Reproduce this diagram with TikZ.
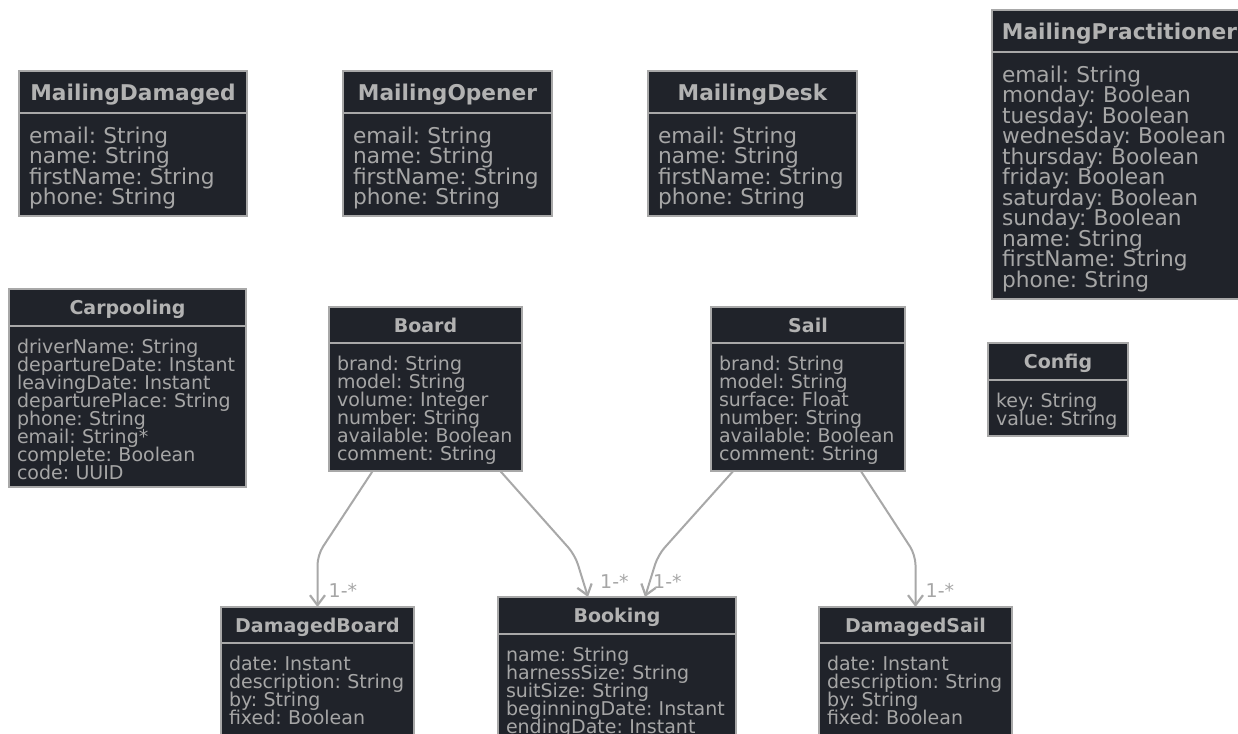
\documentclass[tikz,border=0pt]{standalone}
\usepackage{fontspec}
\setmainfont{DejaVu Sans}
\usetikzlibrary{arrows.meta}
\definecolor{boxbg}{RGB}{32,35,42}
\definecolor{linegray}{RGB}{168,168,168}
\definecolor{txtgray}{RGB}{166,166,166}
\definecolor{titlegray}{RGB}{178,178,178}
\frenchspacing

\begin{document}
\begin{tikzpicture}[x=1pt,y=-1pt,
        head/.style={draw=linegray,fill=boxbg,line width=2pt,text=titlegray,anchor=north west,
            inner sep=0pt,outer sep=0pt,text depth=0pt,font=\fontsize{19}{18}\selectfont\bfseries},
        bighead/.style={head,font=\fontsize{21.7}{20.5}\selectfont\bfseries},
        body/.style={draw=linegray,fill=boxbg,line width=2pt,text=txtgray,anchor=north west,
            align=left,inner xsep=8pt,inner ysep=7pt,outer sep=0pt,font=\fontsize{19}{18}\selectfont,
            execute at begin node={\lineskiplimit=-30pt\hyphenpenalty=10000\frenchspacing\rule{0pt}{1.07em}}},
        bigbody/.style={body,inner xsep=10pt,font=\fontsize{21.7}{20.5}\selectfont},
        assoc/.style={draw=linegray,line width=2pt,rounded corners=10pt,line join=round,
            -{Straight Barb[length=10pt,width=15pt,line width=2.2pt]}},
        mult/.style={text=txtgray,inner sep=0pt,anchor=west,font=\fontsize{19}{18}\selectfont}]
    \useasboundingbox (0,0) rectangle (1238,733);
    \clip (0,0) rectangle (1238,733);
    \fill[white] (0,0) rectangle (1238,733);

    \node[bighead,minimum width=228,minimum height=42] (mdamagedh) at (19,71) {MailingDamaged};
    \node[bigbody,text width=208] (mdamaged) at (mdamagedh.south west)
        {email: String\\name: String\\firstName: String\\phone: String};
    \node[bighead,minimum width=209,minimum height=42] (mopenerh) at (343,71) {MailingOpener};
    \node[bigbody,text width=189] (mopener) at (mopenerh.south west)
        {email: String\\name: String\\firstName: String\\phone: String};
    \node[bighead,minimum width=209,minimum height=42] (mdeskh) at (648,71) {MailingDesk};
    \node[bigbody,text width=189] (mdesk) at (mdeskh.south west)
        {email: String\\name: String\\firstName: String\\phone: String};
    \node[bighead,minimum width=255,minimum height=42] (mpractih) at (992,10) {MailingPractitioner};
    \node[bigbody,text width=235] (mpracti) at (mpractih.south west)
        {email: String\\monday: Boolean\\tuesday: Boolean\\wednesday: Boolean\\thursday: Boolean\\
         friday: Boolean\\saturday: Boolean\\sunday: Boolean\\name: String\\firstName: String\\phone: String};

    \node[head,minimum width=237,minimum height=37] (carpoolh) at (9,289) {Carpooling};
    \node[body,text width=221] (carpool) at (carpoolh.south west)
        {driverName: String\\departureDate: Instant\\leavingDate: Instant\\departurePlace: String\\
         phone: String\\email: String*\\complete: Boolean\\code: UUID};
    \node[head,minimum width=193,minimum height=36] (boardh) at (329,307) {Board};
    \node[body,text width=177] (board) at (boardh.south west)
        {brand: String\\model: String\\volume: Integer\\number: String\\available: Boolean\\comment: String};
    \node[head,minimum width=194,minimum height=36] (sailh) at (711,307) {Sail};
    \node[body,text width=178] (sail) at (sailh.south west)
        {brand: String\\model: String\\surface: Float\\number: String\\available: Boolean\\comment: String};
    \node[head,minimum width=140,minimum height=37] (configh) at (988,343) {Config};
    \node[body,text width=124] (config) at (configh.south west) {key: String\\value: String};

    \node[head,minimum width=193,minimum height=36] (dboardh) at (221,607) {DamagedBoard};
    \node[body,text width=177] (dboard) at (dboardh.south west)
        {date: Instant\\description: String\\by: String\\fixed: Boolean\rule[-20pt]{0pt}{20pt}};
    \node[head,minimum width=238,minimum height=37] (bookingh) at (498,597) {Booking};
    \node[body,text width=222] (booking) at (bookingh.south west)
        {name: String\\harnessSize: String\\suitSize: String\\beginningDate: Instant\\endingDate: Instant\rule[-20pt]{0pt}{20pt}};
    \node[head,minimum width=193,minimum height=36] (dsailh) at (819,607) {DamagedSail};
    \node[body,text width=177] (dsail) at (dsailh.south west)
        {date: Instant\\description: String\\by: String\\fixed: Boolean\rule[-20pt]{0pt}{20pt}};

    \draw[assoc] ([xshift=-53pt]board.south) -- ([yshift=52pt]dboardh.north) -- (dboardh.north);
    \draw[assoc] ([xshift=75pt]board.south) -- ([xshift=-42pt,yshift=42pt]bookingh.north)
        -- ([xshift=-29pt]bookingh.north);
    \draw[assoc] ([xshift=-75pt]sail.south) -- ([xshift=41pt,yshift=42pt]bookingh.north)
        -- ([xshift=28pt]bookingh.north);
    \draw[assoc] ([xshift=53pt]sail.south) -- ([yshift=52pt]dsailh.north) -- (dsailh.north);

    \node[mult] (m1) at ([xshift=11pt,yshift=17pt]dboardh.north) {1-*};
    \node[mult] (m2) at ([xshift=-17pt,yshift=16pt]bookingh.north) {1-*};
    \node[mult] (m3) at ([xshift=36pt,yshift=16pt]bookingh.north) {1-*};
    \node[mult] (m4) at ([xshift=10pt,yshift=17pt]dsailh.north) {1-*};
\end{tikzpicture}
\end{document}
